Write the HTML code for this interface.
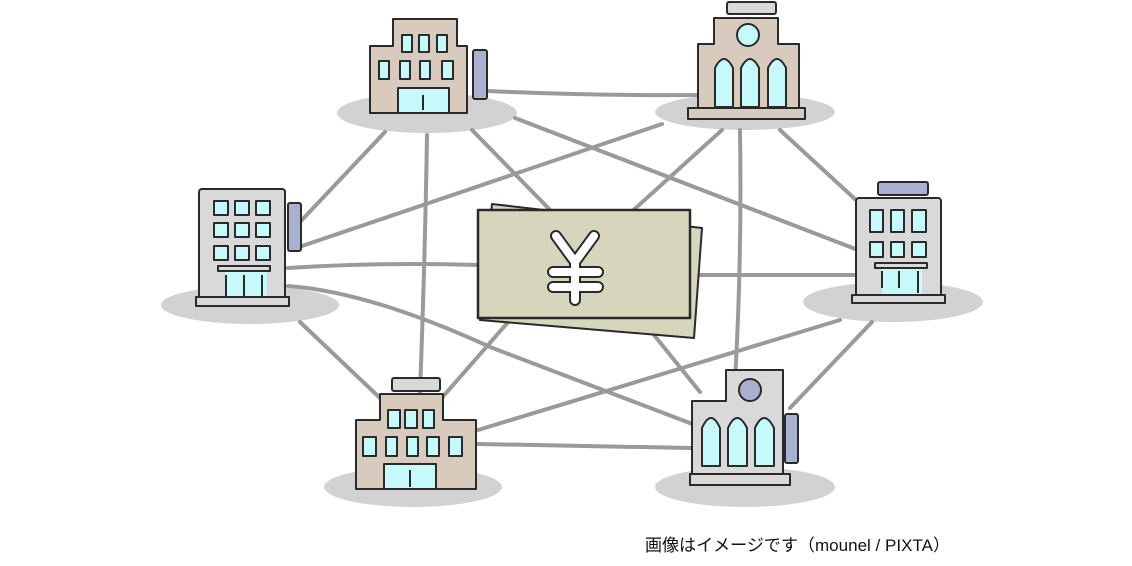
<!DOCTYPE html>
<html><head><meta charset="utf-8"><style>
html,body{margin:0;padding:0;background:#fff;width:1132px;height:566px;overflow:hidden}
svg{display:block}
</style></head><body>
<svg width="1132" height="566" viewBox="0 0 1132 566" xmlns="http://www.w3.org/2000/svg">
<g fill="#d2d2d2">
<ellipse cx="427" cy="113" rx="90" ry="20"/>
<ellipse cx="745" cy="112" rx="90" ry="18"/>
<ellipse cx="250" cy="305" rx="89" ry="19"/>
<ellipse cx="893" cy="302" rx="90" ry="20"/>
<ellipse cx="413" cy="487" rx="89" ry="20"/>
<ellipse cx="745" cy="487" rx="90" ry="20"/>
</g>
<g stroke="#9a9a9a" stroke-width="4" fill="none" stroke-linecap="round">
<path d="M488 91 Q600 96 700 95"/>
<path d="M515 118 L858 250"/>
<path d="M472 130 L555 215"/>
<path d="M385 132 L300 222"/>
<path d="M427 135 Q425 260 420 392"/>
<path d="M722 130 L628 215"/>
<path d="M662 124 L302 246"/>
<path d="M740 130 Q742 260 735 380"/>
<path d="M780 130 L856 200"/>
<path d="M288 268 Q380 262 480 265"/>
<path d="M700 275 L856 275"/>
<path d="M288 286 Q370 292 490 347 L695 425"/>
<path d="M300 322 L380 398"/>
<path d="M840 320 L478 430"/>
<path d="M872 322 L790 408"/>
<path d="M478 444 L692 448"/>
<path d="M440 400 L510 320"/>
<path d="M700 392 L650 330"/>
</g>
<g stroke="#2a2a2a" stroke-width="2" stroke-linejoin="round">
<rect x="473" y="50" width="14" height="49" rx="2" fill="#aab0d0"/>
<path d="M393 19 H457 V46 H467 V113 H370 V46 H393 Z" fill="#d8cbbd"/>
<g fill="#c6fafa">
<rect x="402" y="35" width="10" height="17"/><rect x="419" y="35" width="10" height="17"/><rect x="437" y="35" width="10" height="17"/>
<rect x="379" y="61" width="10" height="18"/><rect x="400" y="61" width="10" height="18"/><rect x="420" y="61" width="10" height="18"/><rect x="442" y="61" width="11" height="18"/>
<rect x="398" y="88" width="51" height="25"/>
</g>
<path d="M423 95 V110" fill="none"/>
<rect x="727" y="2" width="49" height="12" rx="2" fill="#d8d8d8"/>
<path d="M714 18 H778 V44 H799 V110 H698 V44 H714 Z" fill="#d8cbbd"/>
<circle cx="748" cy="35" r="11" fill="#c6fafa"/>
<g fill="#c6fafa">
<path d="M715 107 V68 Q724 50 733 68 V107 Z"/>
<path d="M741 107 V68 Q750 50 759 68 V107 Z"/>
<path d="M768 107 V68 Q777 50 786 68 V107 Z"/>
</g>
<rect x="688" y="108" width="117" height="11" fill="#d8cbbd"/>
<rect x="288" y="203" width="13" height="48" rx="2" fill="#aab0d0"/>
<rect x="199" y="189" width="86" height="112" rx="3" fill="#d9d9d9"/>
<g fill="#c6fafa">
<rect x="214" y="201" width="14" height="14"/><rect x="235" y="201" width="14" height="14"/><rect x="256" y="201" width="14" height="14"/>
<rect x="214" y="223" width="14" height="14"/><rect x="235" y="223" width="14" height="14"/><rect x="256" y="223" width="14" height="14"/>
<rect x="214" y="246" width="14" height="14"/><rect x="235" y="246" width="14" height="14"/><rect x="256" y="246" width="14" height="14"/>
<rect x="225" y="272" width="42" height="28" stroke="none"/>
</g>
<rect x="218" y="266" width="52" height="5" fill="#d9d9d9"/>
<path d="M226 275 V298 M244 275 V298 M262 275 V298" fill="none"/>
<rect x="196" y="297" width="93" height="9" fill="#d9d9d9"/>
<rect x="878" y="182" width="50" height="13" rx="2" fill="#aab0d0"/>
<rect x="856" y="198" width="85" height="100" rx="3" fill="#d9d9d9"/>
<g fill="#c6fafa">
<rect x="870" y="210" width="13" height="22"/><rect x="891" y="210" width="13" height="22"/><rect x="912" y="210" width="14" height="22"/>
<rect x="870" y="242" width="13" height="15"/><rect x="891" y="242" width="13" height="15"/><rect x="912" y="242" width="14" height="15"/>
<rect x="882" y="268" width="40" height="28" stroke="none"/>
</g>
<rect x="875" y="263" width="52" height="5" fill="#d9d9d9"/>
<path d="M882 271 V288 M899 271 V288 M918 271 V293" fill="none"/>
<rect x="852" y="295" width="93" height="8" fill="#d9d9d9"/>
<rect x="392" y="378" width="48" height="13" rx="2" fill="#d8d8d8"/>
<path d="M380 394 H443 V420 H476 V489 H356 V420 H380 Z" fill="#d8cbbd"/>
<g fill="#c6fafa">
<rect x="388" y="410" width="12" height="18"/><rect x="405" y="410" width="12" height="18"/><rect x="423" y="410" width="11" height="18"/>
<rect x="363" y="437" width="13" height="19"/><rect x="386" y="437" width="11" height="19"/><rect x="407" y="437" width="11" height="19"/><rect x="427" y="437" width="12" height="19"/><rect x="449" y="437" width="13" height="19"/>
<rect x="384" y="464" width="52" height="25"/>
</g>
<path d="M410 470 V487" fill="none"/>
<rect x="785" y="414" width="13" height="49" rx="2" fill="#aab0d0"/>
<path d="M726 370 H783 V474 H692 V401 H726 Z" fill="#d9d9d9"/>
<circle cx="750" cy="390" r="11" fill="#aab0d0"/>
<g fill="#c6fafa">
<path d="M702 466 V428 Q711 408 720 428 V466 Z"/>
<path d="M728 466 V428 Q737 408 747 428 V466 Z"/>
<path d="M755 466 V428 Q764 408 774 428 V466 Z"/>
</g>
<rect x="690" y="474" width="100" height="11" fill="#d9d9d9"/>
<path d="M492 204 L702 228 L694 338 L480 320 Z" fill="#d6d6bc"/>
<rect x="478" y="210" width="212" height="108" fill="#d6d6bc" stroke-width="2.5"/>
</g>
<g fill="none" stroke-linecap="round" stroke-linejoin="round">
<path d="M556 236 L575 262 L594 236 M575 262 V300 M553 272 H598 M553 287 H598" stroke="#2a2a2a" stroke-width="12"/>
<path d="M556 236 L575 262 L594 236 M575 262 V300 M553 272 H598 M553 287 H598" stroke="#fff" stroke-width="8"/>
</g>
<text x="645" y="551" textLength="305" lengthAdjust="spacingAndGlyphs" font-family="'Liberation Sans','Noto Sans CJK JP',sans-serif" font-size="17" fill="#111">画像はイメージです（mounel / PIXTA）</text>
</svg>
</body></html>
